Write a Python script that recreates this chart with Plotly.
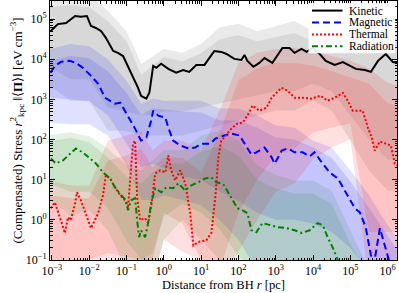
import plotly.graph_objects as go

# ---------------- data ----------------
# Kinetic (black solid)
r_kin = [9.2e-4, 1.45e-3, 2.4e-3, 3.2e-3, 4.2e-3, 6.0e-3, 8.7e-3, 1.12e-2, 1.51e-2, 2.1e-2,
         2.8e-2, 4.4e-2, 5.9e-2, 8.1e-2, 0.126, 0.17, 0.204, 0.245, 0.34, 0.41,
         0.52, 0.63, 0.85, 1.32, 2.14, 3.3, 4.8, 7.4, 12.3, 22.6,
         34.7, 47.9, 77.6, 120, 145, 174, 251, 363, 501, 813,
         1510, 2340, 3200, 4900, 6760, 9770, 1.51e4, 2.19e4, 3.8e4, 6.3e4,
         1.02e5, 1.4e5, 2.45e5, 3.55e5, 5.5e5, 8.9e5, 1.38e6, 1.86e6]
kinetic = [5.0e4, 7.5e4, 8.0e4, 1.0e5, 1.19e5, 1.14e5, 1.19e5, 6.7e4, 6.0e4, 5.0e4,
           3.4e4, 1.6e4, 1.44e4, 1.2e4, 5.1e3, 2.9e3, 1.94e3, 1.23e3, 1.04e3, 1.46e3,
           6.8e3, 6.1e3, 7.7e3, 5.75e3, 4.6e3, 5.4e3, 4.85e3, 7.2e3, 7.2e3, 1.6e4,
           1.52e4, 1.35e4, 1.02e4, 9.6e3, 1.28e4, 9.1e3, 6.5e3, 8.1e3, 1.07e4, 8.1e3,
           1.9e4, 1.9e4, 1.44e4, 1.8e4, 1.52e4, 1.9e4, 1.35e4, 9.1e3, 7.2e3, 8.5e3,
           6.8e3, 5.75e3, 5.4e3, 4.85e3, 9.1e3, 1.35e4, 8.5e3, 8.1e3]

# Magnetic (blue dashed)
r_mag = [9.2e-4, 1.2e-3, 1.74e-3, 3.0e-3, 4.4e-3, 6.8e-3, 1.12e-2, 1.74e-2, 2.66e-2, 3.63e-2,
         4.9e-2, 6.8e-2, 9.1e-2, 0.126, 0.17, 0.245, 0.34, 0.457, 0.52, 0.71,
         1.1, 1.32, 1.78, 2.75, 4.6, 6.9, 10.1, 17.8, 24, 41.7,
         64.6, 107, 145, 224, 302, 501, 776, 933, 1445, 2090,
         3200, 5250, 8130, 1.1e4, 1.58e4, 2.8e4, 4.6e4, 7.6e4, 1.32e5, 1.78e5,
         2.57e5, 3.55e5, 4.3e5, 6.2e5, 8.4e5, 1.15e6, 1.86e6]
magnetic = [4.6e3, 6.8e3, 8.6e3, 9.1e3, 8.1e3, 6.1e3, 3.86e3, 2.45e3, 1.1e3, 927,
            780, 826, 523, 295, 187, 94, 112, 295, 523, 394,
            351, 198, 94, 71, 60, 63, 79, 79, 106, 126,
            141, 126, 79, 42, 48, 63, 36, 25, 53, 60,
            48, 48, 38, 48, 30, 15, 10.8, 4.6, 1.95, 1.55,
            0.66, 0.133, 0.08, 0.62, 0.23, 0.08, 0.05]

# Thermal (red dotted)
r_th = [9.4e-4, 1.2e-3, 1.64e-3, 2.24e-3, 2.7e-3, 3.2e-3, 4.2e-3, 4.7e-3, 6.0e-3, 8.2e-3,
        1.12e-2, 1.74e-2, 2.35e-2, 2.8e-2, 3.63e-2, 4.9e-2, 6.8e-2, 9.1e-2, 0.11, 0.133,
        0.15, 0.17, 0.193, 0.232, 0.316, 0.38, 0.457, 0.59, 0.8, 1.1,
        1.32, 1.58, 2.02, 2.75, 3.76, 5.1, 6.2, 8.4, 13.8, 18.8,
        24, 29, 34.7, 41.7, 64.6, 93, 129, 174, 238, 363,
        562, 776, 1430, 2090, 3200, 5250, 9120, 1.58e4, 2.45e4, 3.8e4,
        6.3e4, 8.5e4, 1.16e5, 2.14e5, 2.95e5, 3.76e5, 4.5e5, 6.2e5, 8.4e5, 1.22e6,
        1.55e6, 1.86e6]
thermal = [1.95, 2.74, 1.16, 0.47, 1.16, 0.98, 2.6, 4.85, 3.07, 1.46,
           0.62, 1.46, 4.1, 12.8, 10.8, 6.45, 4.1, 3.07, 1.95, 20.2,
           79, 94, 3.65, 0.98, 1.1, 0.83, 2.06, 14.3, 17, 15.2,
           40, 17, 9.6, 17, 8.1, 1.46, 0.23, 0.28, 0.31, 0.47,
           3.65, 36, 94, 112, 187, 249, 263, 394, 697, 523,
           621, 1100, 1945, 1640, 1100, 1100, 1040, 1230, 927, 1100,
           1460, 927, 523, 523, 198, 112, 53, 89, 79, 71,
           25, 22.6]

# Radiation (green dash-dot)
r_rad = [9.4e-4, 1.28e-3, 1.98e-3, 3.2e-3, 4.4e-3, 6.8e-3, 1.05e-2, 1.51e-2, 2.35e-2, 3.63e-2,
         4.9e-2, 7.2e-2, 9.8e-2, 0.11, 0.133, 0.17, 0.193, 0.218, 0.245, 0.316,
         0.38, 0.457, 0.59, 0.85, 1.16, 1.78, 2.44, 3.76, 5.46, 8.4,
         13, 18.8, 25.7, 34.7, 41.7, 64.6, 93, 129, 174, 224,
         302, 442, 676, 1120, 1950, 3200, 4900, 8130, 1.32e4, 1.82e4,
         2.45e4, 3.4e4, 4.6e4, 5.5e4]
radiation = [33.8, 25.4, 30.1, 45, 60, 47.5, 33.8, 25.4, 15.2, 10.8,
             6.45, 4.1, 3.07, 1.73, 3.07, 3.44, 0.98, 0.37, 0.55, 0.37,
             0.83, 2.6, 6.1, 4.85, 6.45, 6.1, 8.1, 5.4, 7.2, 8.6,
             10.8, 11.4, 8.6, 8.1, 7.2, 3.65, 1.95, 1.73, 1.46, 0.55,
             0.49, 0.83, 0.74, 0.66, 0.62, 0.55, 0.47, 0.55, 0.83, 0.74,
             0.37, 0.2, 0.1, 0.06]

# Percentile bands (outer = light, inner = dark), sampled on a coarse grid
r_band = [8.9e-4, 3.16e-3, 1e-2, 3.16e-2, 0.1, 0.25, 0.5, 1, 3.16, 10, 31.6,
          100, 316, 1000, 3162, 1e4, 3.16e4, 1e5, 3.16e5, 1e6, 2e6]

kin_out_hi = [4e5, 4e5, 4e5, 1.6e5, 5.0e4, 7.6e3, 1.2e4, 1.8e4, 1.45e4, 2.4e4, 6.3e4,
              7.6e4, 5.0e4, 6.8e4, 8.9e4, 5.0e4, 5.6e4, 6.0e4, 6.8e4, 1.0e5, 8.9e4]
kin_out_lo = [2.2e3, 930, 930, 165, 165, 126, 126, 126, 126, 165, 224,
              295, 400, 525, 525, 930, 525, 93, 17, 5.4, 5.4]
kin_in_hi = [2.0e5, 2.24e5, 2.0e5, 8.9e4, 2.8e4, 4.0e3, 7.1e3, 1.12e4, 8.9e3, 1.4e4, 3.16e4,
             4.0e4, 2.8e4, 3.5e4, 4.5e4, 2.8e4, 3.16e4, 3.16e4, 3.5e4, 5.0e4, 4.5e4]
kin_in_lo = [6.3e3, 3.16e3, 3.16e3, 630, 500, 400, 400, 500, 500, 630, 800,
             1e3, 1.26e3, 1.6e3, 1.6e3, 2.5e3, 1.6e3, 400, 100, 32, 32]

mag_out_hi = [1.8e4, 2.4e4, 2.1e4, 1.0e4, 2.9e3, 780, 1.05e3, 930, 930, 930, 590,
              590, 400, 224, 200, 93, 63, 17, 4.1, 0.74, 0.32]
mag_out_lo = [263, 240, 240, 126, 23, 3.1, 3.1, 4.1, 3.1, 2.3, 0.98,
              0.32, 0.056, 0.03, 0.03, 0.03, 0.03, 0.03, 0.03, 0.03, 0.03]
mag_in_hi = [9e3, 1.2e4, 1.05e4, 5e3, 1.45e3, 400, 600, 560, 500, 470, 300,
             300, 200, 112, 100, 63, 35, 9, 2.0, 0.4, 0.15]
mag_in_lo = [1.1e3, 1.0e3, 900, 400, 80, 20, 25, 20, 12, 10, 5,
             3, 1.5, 1.0, 1.0, 0.8, 0.5, 0.2, 0.05, 0.03, 0.03]

th_out_hi = [9.5, 7.2, 7.2, 93, 126, 160, 54, 93, 93, 54, 525,
             8.1e3, 1.45e4, 1.8e4, 1.9e4, 1.6e4, 1.2e4, 9.1e3, 5.8e3, 2.6e3, 2.2e3]
th_out_lo = [0.03, 0.03, 0.03, 0.03, 0.03, 0.03, 0.03, 0.32, 0.16, 0.1, 0.03,
             0.16, 1.0, 5.0, 7.9, 32, 63, 100, 0.03, 0.03, 0.03]
th_in_hi = [4.0, 3.5, 3.5, 30, 40, 60, 20, 35, 35, 15, 150,
            3e3, 6e3, 8e3, 8e3, 7e3, 5e3, 3.5e3, 2.5e3, 800, 700]
th_in_lo = [0.1, 0.1, 0.1, 0.15, 0.12, 0.1, 0.1, 1.5, 0.8, 0.1, 0.06,
            1.5, 10, 40, 60, 150, 200, 250, 0.5, 0.5, 0.5]

rad_out_hi = [130, 150, 120, 60, 23, 17, 30, 54, 54, 126, 166,
              93, 23, 13, 9.5, 9.5, 5.4, 0.55, 0.056, 0.03, 0.03]
rad_out_lo = [3.1, 1.3, 1.7, 0.55, 0.056, 0.03, 0.03, 0.32, 1.0, 0.32, 0.1,
              0.03, 0.03, 0.03, 0.03, 0.03, 0.03, 0.03, 0.03, 0.03, 0.03]
rad_in_hi = [90, 110, 85, 35, 12, 8, 15, 25, 25, 50, 70,
             40, 10, 6, 4.5, 4.5, 2.5, 0.25, 0.04, 0.03, 0.03]
rad_in_lo = [8, 5, 5, 2, 0.3, 0.1, 0.15, 1.2, 2.5, 1.5, 0.6,
             0.12, 0.06, 0.06, 0.06, 0.06, 0.04, 0.03, 0.03, 0.03, 0.03]

labels = ["Kinetic", "Magnetic", "Thermal", "Radiation"]

x_tick_vals = [1e-3, 1e-2, 1e-1, 1e0, 1e1, 1e2, 1e3, 1e4, 1e5, 1e6]
x_tick_text = ["10<sup>−3</sup>", "10<sup>−2</sup>", "10<sup>−1</sup>", "10<sup>0</sup>",
               "10<sup>1</sup>", "10<sup>2</sup>", "10<sup>3</sup>", "10<sup>4</sup>",
               "10<sup>5</sup>", "10<sup>6</sup>"]
y_tick_vals = [1e-1, 1e0, 1e1, 1e2, 1e3, 1e4, 1e5]
y_tick_text = ["10<sup>−1</sup>", "10<sup>0</sup>", "10<sup>1</sup>", "10<sup>2</sup>",
               "10<sup>3</sup>", "10<sup>4</sup>", "10<sup>5</sup>"]

# ---------------- figure ----------------
FONT = "Liberation Serif"
fig = go.Figure()

def band(lo, hi, color):
    fig.add_trace(go.Scatter(
        x=r_band + r_band[::-1], y=hi + lo[::-1], fill="toself",
        fillcolor=color, line=dict(width=0), mode="lines",
        hoverinfo="skip", showlegend=False))

band_specs = [
    (kin_out_lo, kin_out_hi, kin_in_lo, kin_in_hi, "rgba(128,128,128,0.17)"),
    (mag_out_lo, mag_out_hi, mag_in_lo, mag_in_hi, "rgba(0,0,255,0.12)"),
    (th_out_lo, th_out_hi, th_in_lo, th_in_hi, "rgba(255,0,0,0.12)"),
    (rad_out_lo, rad_out_hi, rad_in_lo, rad_in_hi, "rgba(0,128,0,0.11)"),
]
for olo, ohi, ilo, ihi, col in band_specs:
    band(olo, ohi, col)
    band(ilo, ihi, col)

line_specs = [
    (r_kin, kinetic, "black", "solid"),
    (r_mag, magnetic, "#0000ff", "7px,4px"),
    (r_th, thermal, "#ff0000", "2px,2px"),
    (r_rad, radiation, "#008000", "6px,3px,2px,3px"),
]
for (x, y, c, d), name in zip(line_specs, labels):
    fig.add_trace(go.Scatter(x=x, y=y, mode="lines", name=name, showlegend=False,
                             line=dict(color=c, width=2, dash=d)))

# minor tick positions (2..9 within each decade)
def minor_vals(lo_dec, hi_dec):
    return [m * 10.0 ** k for k in range(lo_dec, hi_dec + 1) for m in range(2, 10)]

axis_common = dict(
    type="log", showgrid=False, zeroline=False, automargin=False,
    showline=True, linecolor="black", linewidth=1, mirror="allticks",
    ticks="inside", ticklen=5, tickwidth=1, tickcolor="black",
    tickmode="array",
    tickfont=dict(family=FONT, size=12, color="black"),
)

fig.update_xaxes(**axis_common, range=[-3.05, 6.25],
                 tickvals=x_tick_vals, ticktext=x_tick_text,
                 minor=dict(ticks="inside", ticklen=2.5, tickcolor="black",
                            tickmode="array", tickvals=minor_vals(-4, 6)),
                 title=dict(text="Distance from BH <i>r</i> [pc]",
                            font=dict(family=FONT, size=12.5, color="black"), standoff=0))
fig.update_yaxes(**axis_common, range=[-1, 5.45],
                 tickvals=y_tick_vals, ticktext=y_tick_text,
                 minor=dict(ticks="inside", ticklen=2.5, tickcolor="black",
                            tickmode="array", tickvals=minor_vals(-1, 5)),
                 title=dict(text="(Compensated) Stress <i>r</i><sup>2</sup><sub>kpc</sub> "
                                 "‖⟨<b>Π</b>⟩‖ [eV cm<sup>−3</sup>]",
                            font=dict(family=FONT, size=13, color="black"), standoff=0))

# hand-drawn legend box (legend styling only, not data)
legend_rows = [0.963, 0.917, 0.871, 0.825]
shapes = [dict(type="rect", xref="paper", yref="paper", x0=0.745, x1=0.995, y0=0.798, y1=0.992,
               fillcolor="rgba(255,255,255,0.9)", line=dict(width=0), layer="above")]
annotations = []
for (x, y, c, d), name, yy in zip(line_specs, labels, legend_rows):
    shapes.append(dict(type="line", xref="paper", yref="paper", x0=0.755, x1=0.843, y0=yy, y1=yy,
                       line=dict(color=c, width=2, dash=d), layer="above"))
    annotations.append(dict(text=name, xref="paper", yref="paper", x=0.856, y=yy,
                            xanchor="left", yanchor="middle", showarrow=False,
                            font=dict(family=FONT, size=11.5, color="black")))

fig.update_layout(
    width=399, height=293,
    margin=dict(l=50, r=2, t=1, b=33),
    paper_bgcolor="white", plot_bgcolor="white",
    font=dict(family=FONT, size=12, color="black"),
    shapes=shapes, annotations=annotations,
    showlegend=False,
)

fig.write_html("out.html", config={"displayModeBar": False},
               post_script="document.body.style.margin='0';document.body.style.padding='0';")
